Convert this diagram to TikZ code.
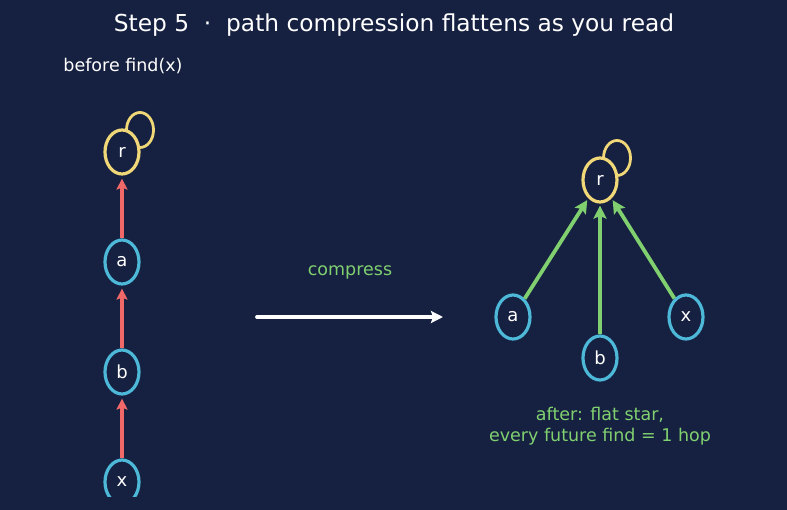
\documentclass[tikz,border=0pt]{standalone}
\usepackage{fontspec}
\setmainfont{DejaVu Sans}
\usetikzlibrary{arrows.meta,shapes.geometric}
\definecolor{bg}{HTML}{162040}
\definecolor{nodeblue}{HTML}{4DB8D8}
\definecolor{rootyel}{HTML}{F0D878}
\definecolor{redarr}{HTML}{F06868}
\definecolor{greenarr}{HTML}{80D070}
\begin{document}
\begin{tikzpicture}[x=1pt,y=-1pt,
  elem/.style={ellipse,draw=nodeblue,line width=3.2pt,minimum width=34pt,minimum height=44pt,inner sep=0pt,text=white,font=\fontsize{18}{21}\selectfont},
  rootn/.style={elem,draw=rootyel},
  loopn/.style={ellipse,draw=rootyel,line width=2.8pt,minimum width=27pt,minimum height=35pt,inner sep=0pt},
  redlink/.style={draw=redarr,line width=3.4pt,shorten >=3pt,-{Stealth[length=11pt,width=11pt,inset=2pt]}},
  greenlink/.style={draw=greenarr,line width=3.8pt,shorten >=2pt,-{Stealth[length=13pt,width=13pt,inset=2.5pt]}},
  lbl/.style={font=\fontsize{17.5}{21}\selectfont}]
\useasboundingbox (0,0) rectangle (787,510);
\fill[bg] (0,0) rectangle (787,510);
\node[white,font=\fontsize{23.3}{28}\selectfont] (title) at (394,25) {Step 5 \ \textperiodcentered\ \ path compression flattens as you read};
\node[white,lbl] (before) at (123,66) {before find(x)};
% left chain
\begin{scope}
\clip (0,0) rectangle (787,496);
\node[loopn] (rloopL) at (140,130) {};
\node[rootn,fill=bg] (rL) at (122,152) {r};
\node[elem] (aL) at (122,262) {a};
\node[elem] (bL) at (122,372) {b};
\node[elem] (xL) at (122,482) {x};
\draw[redlink] (aL) -- (rL);
\draw[redlink] (bL) -- (aL);
\draw[redlink] (xL) -- (bL);
\end{scope}
% middle
\node[greenarr,lbl] (comp) at (350,272) {compress};
\coordinate (mA) at (257,317);
\coordinate (mB) at (443,317);
\draw[white,line width=3.8pt,line cap=round,-{Stealth[length=12pt,width=12pt,inset=2pt]}] (mA) -- (mB);
% right star
\node[loopn] (rloopR) at (617,158) {};
\node[rootn,fill=bg] (rR) at (600,180) {r};
\node[elem] (aR) at (513,317) {a};
\node[elem] (bR) at (600,358) {b};
\node[elem] (xR) at (686,317) {x};
\draw[greenlink] (aR) -- (rR);
\draw[greenlink] (bR) -- (rR);
\draw[greenlink] (xR) -- (rR);
\node[greenarr,lbl,align=center] (after) at (600,426) {after: flat star,\\[0pt]every future find = 1 hop};
\end{tikzpicture}
\end{document}
